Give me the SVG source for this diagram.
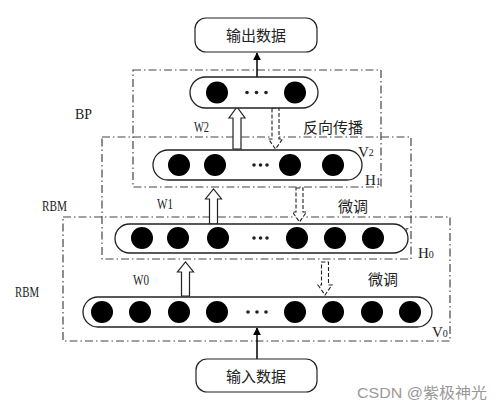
<svg xmlns="http://www.w3.org/2000/svg" width="500" height="410" viewBox="0 0 500 410">
<defs>
<style>
.frame{fill:none;stroke:#444;stroke-width:1.2;stroke-dasharray:8,3,1.5,3}
.pill{fill:#fff;stroke:#222;stroke-width:1.3}
.box{fill:#fff;stroke:#222;stroke-width:1.2}
.neuron{fill:#000}
.dot{fill:#222}
.hollow{fill:#fff;stroke:#222;stroke-width:1.2}
.dashed{fill:#fff;stroke:#222;stroke-width:1.1;stroke-dasharray:4,2}
.solid{stroke:#000;stroke-width:1.5;fill:none}
.lat{font-family:"Liberation Serif","DejaVu Serif",serif;fill:#222}
.cjk{font-family:"Noto Sans CJK SC","Noto Sans CJK JP",sans-serif;fill:#222;font-size:15px}
.wm{font-family:"Liberation Sans","Noto Sans CJK SC",sans-serif;fill:#999;font-size:15px}
</style>
<marker id="ah" viewBox="0 0 10 10" refX="9" refY="5" markerWidth="8" markerHeight="8" markerUnits="userSpaceOnUse" orient="auto">
<path d="M0,0 L10,5 L0,10 z" fill="#000"/>
</marker>
</defs>
<rect width="500" height="410" fill="#fff"/>

<g id="frames">
<rect class="frame" x="133" y="70" width="248" height="117"/>
<rect class="frame" x="102" y="137" width="309" height="122"/>
<rect class="frame" x="63" y="217" width="387" height="124"/>
</g>

<g id="labels">
<text class="lat" x="75" y="119" font-size="14" textLength="17" lengthAdjust="spacingAndGlyphs">BP</text>
<text class="lat" x="42" y="211" font-size="14" textLength="25" lengthAdjust="spacingAndGlyphs">RBM</text>
<text class="lat" x="15" y="297" font-size="14" textLength="24" lengthAdjust="spacingAndGlyphs">RBM</text>
<text class="lat" x="194" y="132" font-size="15" textLength="15" lengthAdjust="spacingAndGlyphs">W2</text>
<text class="lat" x="157" y="209" font-size="15" textLength="16" lengthAdjust="spacingAndGlyphs">W1</text>
<text class="lat" x="133" y="285" font-size="15" textLength="16" lengthAdjust="spacingAndGlyphs">W0</text>
<text class="cjk" x="303" y="133" font-size="16">反向传播</text>
<text class="cjk" x="338" y="212">微调</text>
<text class="cjk" x="368" y="285" font-size="16">微调</text>
<text class="lat" x="358" y="157" font-size="15">V<tspan font-size="10" dy="-1">2</tspan></text>
<text class="lat" x="365" y="185" font-size="15">H<tspan font-size="10" dy="0">1</tspan></text>
<text class="lat" x="398" y="238" font-size="15">V</text>
<text class="lat" x="418" y="258" font-size="15">H<tspan font-size="10">0</tspan></text>
<text class="lat" x="432" y="337" font-size="15">V<tspan font-size="10">0</tspan></text>
</g>

<g id="connectors">
<line class="solid" x1="257" y1="77" x2="257" y2="53" marker-end="url(#ah)"/>
<line class="solid" x1="257" y1="359" x2="257" y2="328" marker-end="url(#ah)"/>
<polygon class="hollow" points="233,149 233,118 229,118 237,107 245,118 241,118 241,149"/>
<polygon class="hollow" points="209.5,224 209.5,199 205.5,199 213.5,189 221.5,199 217.5,199 217.5,224"/>
<polygon class="hollow" points="181.5,296 181.5,272 177.5,272 185.5,262 193.5,272 189.5,272 189.5,296"/>
<polygon class="dashed" points="272,108 279,108 279,139 282.5,139 275.5,149 268.5,139 272,139"/>
<polygon class="dashed" points="296,188 303,188 303,212 306.5,212 299.5,222 292.5,212 296,212"/>
<polygon class="dashed" points="321.5,262 328.5,262 328.5,285 332,285 325,295 318,285 321.5,285"/>
</g>

<g id="output">
<rect class="box" x="195" y="18" width="122" height="34" rx="11"/>
<text class="cjk" x="256" y="41" font-size="16" text-anchor="middle">输出数据</text>
</g>

<g id="input">
<rect class="box" x="196" y="359" width="121" height="33" rx="11"/>
<text class="cjk" x="256" y="382" font-size="16" text-anchor="middle">输入数据</text>
</g>

<g id="layer-top">
<rect class="pill" x="190" y="77" width="128" height="31" rx="15.5"/>
<circle class="neuron" cx="217" cy="92.5" r="11"/>
<circle class="neuron" cx="295" cy="92.5" r="11"/>
<circle class="dot" cx="247" cy="92.5" r="1.8"/>
<circle class="dot" cx="256.5" cy="92.5" r="1.8"/>
<circle class="dot" cx="266" cy="92.5" r="1.8"/>
</g>

<g id="layer-v2h1">
<rect class="pill" x="153" y="150" width="209" height="30" rx="15"/>
<circle class="neuron" cx="179" cy="165" r="11"/>
<circle class="neuron" cx="215" cy="165" r="11"/>
<circle class="neuron" cx="290" cy="165" r="11"/>
<circle class="neuron" cx="333" cy="165" r="11"/>
<circle class="dot" cx="254" cy="165" r="1.8"/>
<circle class="dot" cx="260.5" cy="165" r="1.8"/>
<circle class="dot" cx="267" cy="165" r="1.8"/>
</g>

<g id="layer-v1h0">
<rect class="pill" x="115" y="224" width="293" height="29" rx="14.5"/>
<circle class="neuron" cx="142" cy="238" r="11"/>
<circle class="neuron" cx="178" cy="238" r="11"/>
<circle class="neuron" cx="218" cy="238" r="11"/>
<circle class="neuron" cx="297" cy="238" r="11"/>
<circle class="neuron" cx="335" cy="238" r="11"/>
<circle class="neuron" cx="373" cy="238" r="11"/>
<circle class="dot" cx="254" cy="238" r="1.8"/>
<circle class="dot" cx="260.5" cy="238" r="1.8"/>
<circle class="dot" cx="267" cy="238" r="1.8"/>
</g>

<g id="layer-v0">
<rect class="pill" x="83" y="297" width="349" height="30" rx="15"/>
<circle class="neuron" cx="102" cy="312" r="11"/>
<circle class="neuron" cx="140" cy="312" r="11"/>
<circle class="neuron" cx="179" cy="312" r="11"/>
<circle class="neuron" cx="217" cy="312" r="11"/>
<circle class="neuron" cx="295" cy="312" r="11"/>
<circle class="neuron" cx="333" cy="312" r="11"/>
<circle class="neuron" cx="372" cy="312" r="11"/>
<circle class="neuron" cx="410" cy="312" r="11"/>
<circle class="dot" cx="248" cy="312" r="1.8"/>
<circle class="dot" cx="257" cy="312" r="1.8"/>
<circle class="dot" cx="266" cy="312" r="1.8"/>
</g>

<text class="wm" x="357" y="398" textLength="130" lengthAdjust="spacingAndGlyphs">CSDN @紫极神光</text>
</svg>
